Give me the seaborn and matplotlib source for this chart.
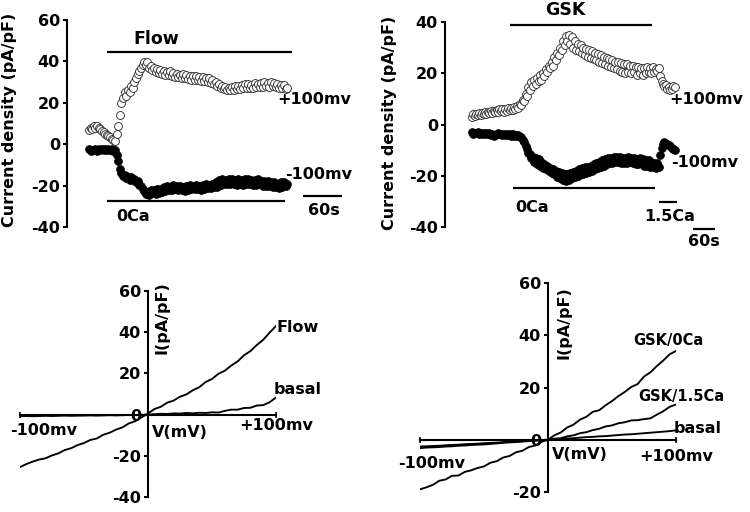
import matplotlib
matplotlib.use("Agg")
import matplotlib.pyplot as plt
import seaborn as sns

# ============================================
# Data
# ============================================
# Panel A: flow time course, 2.5 s sampling
t_flow = [0, 2.5, 5, 7.5, 10, 12.5, 15, 17.5, 20, 22.5,
          25, 27.5, 30, 32.5, 35, 37.5, 40, 42.5, 45, 47.5,
          50, 52.5, 55, 57.5, 60, 62.5, 65, 67.5, 70, 72.5,
          75, 77.5, 80, 82.5, 85, 87.5, 90, 92.5, 95, 97.5,
          100, 102.5, 105, 107.5, 110, 112.5, 115, 117.5, 120, 122.5,
          125, 127.5, 130, 132.5, 135, 137.5, 140, 142.5, 145, 147.5,
          150, 152.5, 155, 157.5, 160, 162.5, 165, 167.5, 170, 172.5,
          175, 177.5, 180, 182.5, 185, 187.5, 190, 192.5, 195, 197.5,
          200, 202.5, 205, 207.5, 210, 212.5, 215, 217.5, 220, 222.5,
          225, 227.5, 230, 232.5, 235, 237.5, 240, 242.5, 245, 247.5,
          250, 252.5, 255, 257.5, 260, 262.5, 265, 267.5, 270, 272.5,
          275, 277.5, 280, 282.5, 285, 287.5, 290, 292.5, 295, 297.5,
          300, 302.5, 305]
flow_pos100 = [7.0, 8.0, 7.5, 8.8, 8.0, 8.8, 7.8, 7.5, 6.5, 6.0,
               5.0, 4.5, 4.0, 3.5, 2.5, 2.0, 1.5, 5.0, 9.0, 14.0,
               20.0, 22.5, 25.0, 23.5, 26.0, 25.0, 28.0, 27.0, 30.0, 32.0,
               34.0, 35.5, 37.0, 38.5, 39.5, 38.5, 39.5, 37.0, 38.0, 36.0,
               37.0, 35.0, 36.5, 34.5, 36.0, 34.0, 35.5, 33.5, 35.0, 33.5,
               35.5, 33.0, 34.5, 32.5, 34.0, 32.5, 33.5, 32.0, 34.0, 32.0,
               33.5, 31.5, 33.0, 31.0, 33.0, 31.0, 33.0, 31.0, 32.5, 30.5,
               32.5, 30.5, 32.0, 30.0, 32.0, 29.5, 31.0, 29.0, 30.0, 28.0,
               29.0, 27.0, 28.0, 26.5, 27.5, 26.0, 27.0, 26.0, 27.5, 26.0,
               28.0, 26.5, 28.0, 26.5, 28.5, 27.0, 29.0, 27.0, 29.0, 27.0,
               28.5, 27.0, 29.5, 27.5, 29.0, 27.5, 29.5, 27.5, 30.0, 28.0,
               29.5, 27.5, 30.0, 28.0, 29.5, 27.5, 29.0, 27.0, 28.5, 27.0,
               28.5, 26.5, 27.0]
flow_neg100 = [-2.5, -3.2, -2.6, -3.0, -2.4, -3.1, -2.5, -3.0, -2.4, -2.9,
               -2.3, -2.8, -2.5, -3.0, -2.4, -3.2, -3.0, -5.0, -8.0, -12.0,
               -14.0, -15.5, -15.0, -16.5, -16.0, -17.5, -16.0, -17.5, -17.0, -18.5,
               -18.0, -19.5, -20.0, -21.5, -22.5, -24.0, -23.0, -24.5, -22.0, -23.5,
               -22.0, -24.0, -21.5, -23.5, -21.5, -23.0, -20.5, -22.5, -20.0, -22.0,
               -20.5, -22.0, -19.5, -21.5, -20.0, -22.0, -20.0, -22.0, -20.5, -22.5,
               -20.0, -22.0, -19.5, -21.5, -20.0, -21.5, -19.5, -21.5, -20.0, -22.0,
               -19.5, -21.5, -19.0, -21.0, -19.5, -21.0, -19.0, -20.5, -18.5, -20.5,
               -17.5, -19.5, -17.0, -19.0, -17.5, -19.0, -17.0, -19.0, -17.0, -19.0,
               -17.5, -19.5, -17.0, -19.0, -17.5, -19.5, -17.0, -19.0, -17.0, -19.0,
               -17.5, -19.5, -17.5, -19.5, -17.0, -19.0, -18.0, -20.0, -18.0, -20.0,
               -18.0, -20.0, -18.5, -20.5, -18.5, -20.5, -19.0, -21.0, -18.5, -20.5,
               -18.5, -20.0, -19.0]

# Panel B: GSK time course, 4 s sampling
t_gsk = [0, 4, 8, 12, 16, 20, 24, 28, 32, 36,
         40, 44, 48, 52, 56, 60, 64, 68, 72, 76,
         80, 84, 88, 92, 96, 100, 104, 108, 112, 116,
         120, 124, 128, 132, 136, 140, 144, 148, 152, 156,
         160, 164, 168, 172, 176, 180, 184, 188, 192, 196,
         200, 204, 208, 212, 216, 220, 224, 228, 232, 236,
         240, 244, 248, 252, 256, 260, 264, 268, 272, 276,
         280, 284, 288, 292, 296, 300, 304, 308, 312, 316,
         320, 324, 328, 332, 336, 340, 344, 348, 352, 356,
         360, 364, 368, 372, 376, 380, 384, 388, 392, 396,
         400, 404, 408, 412, 416, 420, 424, 428, 432, 436,
         440, 444, 448, 452, 456, 460, 464, 468, 472, 476,
         480, 484, 488, 492, 496, 500, 504, 508, 512, 516,
         520, 524, 528, 532, 536, 540, 544, 548, 552, 556,
         560]
gsk_pos100 = [3.0, 4.0, 3.5, 4.2, 3.6, 4.4, 3.8, 4.6, 4.0, 4.8,
              4.2, 5.0, 4.4, 5.2, 4.5, 5.4, 4.8, 5.8, 5.0, 6.0,
              5.2, 6.0, 5.0, 6.2, 5.4, 6.4, 5.5, 6.5, 5.8, 6.8,
              6.0, 7.2, 6.5, 8.0, 7.5, 9.5, 9.0, 12.0, 11.0, 14.5,
              13.5, 16.5, 15.0, 17.5, 16.0, 18.0, 17.0, 19.5, 17.5, 20.0,
              19.0, 21.5, 20.5, 23.0, 22.0, 24.5, 23.0, 26.5, 25.0, 28.0,
              27.0, 30.0, 29.0, 32.5, 31.0, 34.5, 32.5, 35.0, 31.5, 34.0,
              30.0, 32.5, 29.0, 31.5, 28.5, 31.0, 28.0, 30.0, 27.0, 29.5,
              26.5, 29.0, 26.0, 28.5, 25.5, 28.0, 25.0, 27.5, 24.5, 27.0,
              24.0, 26.5, 23.5, 26.0, 23.0, 25.5, 22.5, 25.0, 22.0, 24.5,
              21.5, 24.5, 21.0, 24.0, 20.5, 23.5, 20.0, 23.5, 20.5, 23.0,
              20.0, 23.0, 20.5, 22.5, 19.5, 22.5, 20.0, 22.0, 19.5, 22.0,
              20.0, 22.5, 20.5, 22.0, 20.0, 22.5, 20.5, 21.5, 21.0, 22.0,
              19.0, 17.0, 16.0, 15.0, 15.5, 14.0, 14.5, 13.5, 14.0, 15.0,
              14.5]
gsk_neg100 = [-3.0, -3.6, -3.2, -3.5, -3.1, -3.7, -3.3, -3.6, -3.2, -3.8,
              -3.4, -3.9, -3.5, -4.0, -3.6, -4.6, -4.0, -3.8, -3.5, -3.9,
              -3.6, -4.0, -3.7, -4.1, -3.8, -4.2, -3.8, -4.3, -3.9, -4.4,
              -4.0, -4.5, -4.2, -4.8, -5.0, -6.0, -7.0, -8.5, -9.5, -11.0,
              -11.5, -13.0, -12.5, -14.5, -13.0, -15.5, -13.5, -16.0, -14.5, -17.0,
              -15.5, -17.5, -16.0, -18.0, -17.0, -19.0, -17.5, -19.5, -18.0, -20.5,
              -18.5, -21.0, -19.0, -21.5, -19.5, -22.0, -19.5, -21.5, -19.0, -21.0,
              -18.5, -20.5, -18.0, -20.0, -17.5, -19.5, -17.0, -19.5, -16.5, -19.0,
              -16.5, -18.5, -16.0, -18.0, -15.5, -17.5, -15.0, -17.0, -14.5, -16.5,
              -14.0, -16.0, -13.5, -15.5, -13.0, -15.0, -13.0, -15.0, -12.5, -14.5,
              -12.5, -14.5, -12.5, -15.0, -13.0, -15.0, -13.0, -15.0, -12.5, -14.5,
              -13.0, -15.0, -13.0, -15.5, -13.5, -15.5, -13.0, -15.0, -13.5, -16.0,
              -14.0, -16.0, -14.0, -16.5, -14.5, -16.5, -15.0, -17.0, -15.0, -16.5,
              -12.0, -9.0, -7.5, -7.0, -7.5, -7.5, -8.0, -8.5, -9.0, -9.5,
              -10.0]

# Panels C/D: I-V ramps, 5 mV steps
v_mv = [-100, -95, -90, -85, -80, -75, -70, -65, -60, -55,
        -50, -45, -40, -35, -30, -25, -20, -15, -10, -5,
        0, 5, 10, 15, 20, 25, 30, 35, 40, 45,
        50, 55, 60, 65, 70, 75, 80, 85, 90, 95,
        100]
iv_flow = [-25.5, -24.0, -22.8, -21.8, -21.2, -19.8, -18.8, -17.2, -16.3, -14.8,
           -13.8, -12.3, -11.6, -9.8, -8.8, -7.3, -6.2, -4.3, -3.2, -1.3,
           0.5, 2.7, 3.8, 5.8, 6.8, 8.7, 9.8, 11.8, 13.3, 15.8,
           17.3, 19.8, 21.3, 23.8, 25.8, 28.8, 30.8, 33.8, 36.3, 39.8,
           43.0]
iv_flow_basal = [-0.8, -0.7, -0.8, -0.7, -0.6, -0.7, -0.6, -0.5, -0.6, -0.5,
                 -0.5, -0.4, -0.5, -0.4, -0.3, -0.4, -0.3, -0.2, -0.2, -0.1,
                 0.0, 0.2, 0.4, 0.3, 0.6, 0.5, 0.8, 0.6, 0.9, 0.8,
                 1.1, 1.0, 1.8, 2.4, 2.4, 3.2, 3.3, 4.4, 4.6, 6.0,
                 8.3]
iv_gsk_0ca = [-19.0, -18.2, -17.3, -15.7, -15.2, -13.8, -13.7, -12.3, -11.7, -10.8,
              -10.2, -8.8, -8.2, -6.8, -6.2, -4.8, -4.2, -2.8, -2.2, -0.8,
              0.0, 1.7, 2.8, 4.7, 5.8, 7.7, 8.8, 10.7, 11.3, 13.2,
              14.8, 16.7, 18.3, 20.2, 21.3, 24.2, 25.8, 28.2, 30.3, 32.7,
              34.0]
iv_gsk_15ca = [-3.2, -3.0, -2.9, -2.8, -2.6, -2.5, -2.3, -2.2, -2.0, -1.9,
               -1.8, -1.6, -1.4, -1.2, -1.0, -0.9, -0.7, -0.5, -0.3, -0.2,
               0.0, 0.4, 0.6, 1.3, 1.7, 2.5, 2.9, 3.7, 4.2, 5.1,
               5.5, 6.3, 6.7, 7.4, 7.5, 7.9, 8.2, 9.6, 10.9, 12.6,
               13.5]
iv_gsk_basal = [-2.6, -2.5, -2.4, -2.3, -2.1, -2.0, -1.9, -1.7, -1.6, -1.5,
                -1.3, -1.2, -1.1, -0.9, -0.8, -0.7, -0.5, -0.4, -0.3, -0.1,
                0.0, 0.2, 0.3, 0.5, 0.6, 0.8, 1.0, 1.1, 1.3, 1.4,
                1.6, 1.8, 2.0, 2.1, 2.3, 2.5, 2.7, 2.9, 3.1, 3.3,
                3.6]

yticks_top_a = [60, 40, 20, 0, -20, -40]
yticks_top_b = [40, 20, 0, -20, -40]
yticks_iv_c = [60, 40, 20, 0, -20, -40]
yticks_iv_d = [60, 40, 20, 0, -20]

# ============================================
# Style
# ============================================
sns.set_style("ticks")
plt.rcParams["font.family"] = ["DejaVu Sans"]
plt.rcParams["font.weight"] = "bold"
plt.rcParams["axes.linewidth"] = 1.5
plt.rcParams["axes.unicode_minus"] = False
for key in ["text.color", "axes.labelcolor", "axes.edgecolor",
            "xtick.color", "ytick.color"]:
    plt.rcParams[key] = "black"

FS = 11.5
LW_BAR = 1.6
LW_IV = 1.35
MS = 32
fig = plt.figure(figsize=(7.5, 5.12), dpi=100)


def style_time_axis(ax, ticks):
    for s in ["top", "right", "bottom"]:
        ax.spines[s].set_visible(False)
    ax.set_xticks([])
    ax.set_yticks(ticks)
    ax.tick_params(axis="y", direction="out", length=3, width=1.5,
                   labelsize=FS, pad=2)
    for lab in ax.get_yticklabels():
        lab.set_fontweight("bold")
    ax.set_xlabel("")


def bar(ax, x0, x1, y):
    ax.plot([x0, x1], [y, y], color="black", lw=LW_BAR, clip_on=False,
            solid_capstyle="butt")


def txt(ax, x, y, s, ha="left", size=FS, **kw):
    ax.text(x, y, s, ha=ha, va="center", fontsize=size, fontweight="bold",
            clip_on=False, **kw)


# --- Panel A: Flow ---
ax = fig.add_axes([0.08933, 0.55664, 0.37067, 0.40430])
sns.scatterplot(x=t_flow, y=flow_neg100, ax=ax, s=MS, color="black",
                edgecolor="black", linewidth=0.5, zorder=3)
sns.scatterplot(x=t_flow, y=flow_pos100, ax=ax, s=MS, color="white",
                edgecolor="#222222", linewidth=0.6, zorder=4)
ax.set_xlim(-33.85, 393.85)
ax.set_ylim(-40, 60)
style_time_axis(ax, yticks_top_a)
ax.set_ylabel("Current density (pA/pF)", fontsize=11.5, fontweight="bold")
ax.yaxis.set_label_coords(-0.18, 0.517)
bar(ax, 27.2, 311.8, 44.7)
txt(ax, 103, 50.8, "Flow", ha="center", size=12.5)
bar(ax, 27.2, 301.5, -27.4)
txt(ax, 68, -34.9, "0Ca", ha="center")
bar(ax, 329.7, 388.8, -25)
txt(ax, 361, -31.8, "60s", ha="center")
txt(ax, 290, 21.8, "+100mv")
txt(ax, 302, -14.7, "-100mv")

# --- Panel B: GSK ---
ax = fig.add_axes([0.59333, 0.55664, 0.36667, 0.40039])
sns.scatterplot(x=t_gsk, y=gsk_neg100, ax=ax, s=MS, color="black",
                edgecolor="black", linewidth=0.5, zorder=3)
sns.scatterplot(x=t_gsk, y=gsk_pos100, ax=ax, s=MS, color="white",
                edgecolor="#222222", linewidth=0.6, zorder=4)
ax.set_xlim(-74.65, 685.6)
ax.set_ylim(-40, 40)
style_time_axis(ax, yticks_top_b)
ax.set_ylabel("Current density (pA/pF)", fontsize=11.5, fontweight="bold")
ax.yaxis.set_label_coords(-0.175, 0.507)
bar(ax, 105, 497, 38.8)
txt(ax, 259, 44.6, "GSK", ha="center", size=12.5)
bar(ax, 114, 506, -24.9)
txt(ax, 165, -32.4, "0Ca", ha="center")
bar(ax, 518, 568, -30.1)
txt(ax, 546.5, -36.0, "1.5Ca", ha="center")
bar(ax, 612, 672, -40.9)
txt(ax, 642, -45.7, "60s", ha="center")
txt(ax, 545, 9.8, "+100mv")
txt(ax, 550, -15, "-100mv")


def style_iv_axis(ax, ticks):
    for s in ["top", "right"]:
        ax.spines[s].set_visible(False)
    ax.spines["left"].set_position(("data", 0))
    ax.spines["bottom"].set_position(("data", 0))
    ax.spines["left"].set_linewidth(1.5)
    ax.spines["bottom"].set_linewidth(1.5)
    ax.set_yticks(ticks)
    ax.set_xticks([-100, 100])
    ax.set_xticklabels([])
    ax.tick_params(axis="y", direction="out", length=3, width=1.5,
                   labelsize=FS, pad=2)
    ax.tick_params(axis="x", direction="inout", length=5, width=1.2)
    for lab in ax.get_yticklabels():
        lab.set_fontweight("bold")
    ax.set_xlabel("")
    ax.set_ylabel("")


# --- Panel C: Flow I-V ---
ax = fig.add_axes([0.02667, 0.0293, 0.34133, 0.40234])
sns.lineplot(x=v_mv, y=iv_flow_basal, ax=ax, color="black", lw=LW_IV,
             estimator=None, sort=False)
sns.lineplot(x=v_mv, y=iv_flow, ax=ax, color="black", lw=LW_IV,
             estimator=None, sort=False)
ax.set_xlim(-100, 100)
ax.set_ylim(-40, 60)
style_iv_axis(ax, yticks_iv_c)
txt(ax, 100.5, 42.3, "Flow")
txt(ax, 98.4, 12, "basal")
txt(ax, -81.8, -7.9, "-100mv", ha="center")
txt(ax, 2.9, -8.9, "V(mV)")
txt(ax, 100.5, -5.5, "+100mv", ha="center")
txt(ax, 11.3, 47.1, "I(pA/pF)", ha="center", rotation=90)

# --- Panel D: GSK I-V ---
ax = fig.add_axes([0.56, 0.03906, 0.34133, 0.40820])
sns.lineplot(x=v_mv, y=iv_gsk_basal, ax=ax, color="black", lw=LW_IV,
             estimator=None, sort=False)
sns.lineplot(x=v_mv, y=iv_gsk_15ca, ax=ax, color="black", lw=LW_IV,
             estimator=None, sort=False)
sns.lineplot(x=v_mv, y=iv_gsk_0ca, ax=ax, color="black", lw=LW_IV,
             estimator=None, sort=False)
ax.set_xlim(-100, 100)
ax.set_ylim(-20, 60)
style_iv_axis(ax, yticks_iv_d)
txt(ax, 66.7, 37.9, "GSK/0Ca", size=10.5)
txt(ax, 70.6, 16.5, "GSK/1.5Ca", size=10.5)
txt(ax, 97.9, 4.4, "basal")
txt(ax, -90.9, -9.0, "-100mv", ha="center")
txt(ax, 2.9, -5.5, "V(mV)")
txt(ax, 100.5, -6.5, "+100mv", ha="center")
txt(ax, 12.5, 45, "I(pA/pF)", ha="center", rotation=90)

fig.savefig("out.png", dpi=100, facecolor="white")
